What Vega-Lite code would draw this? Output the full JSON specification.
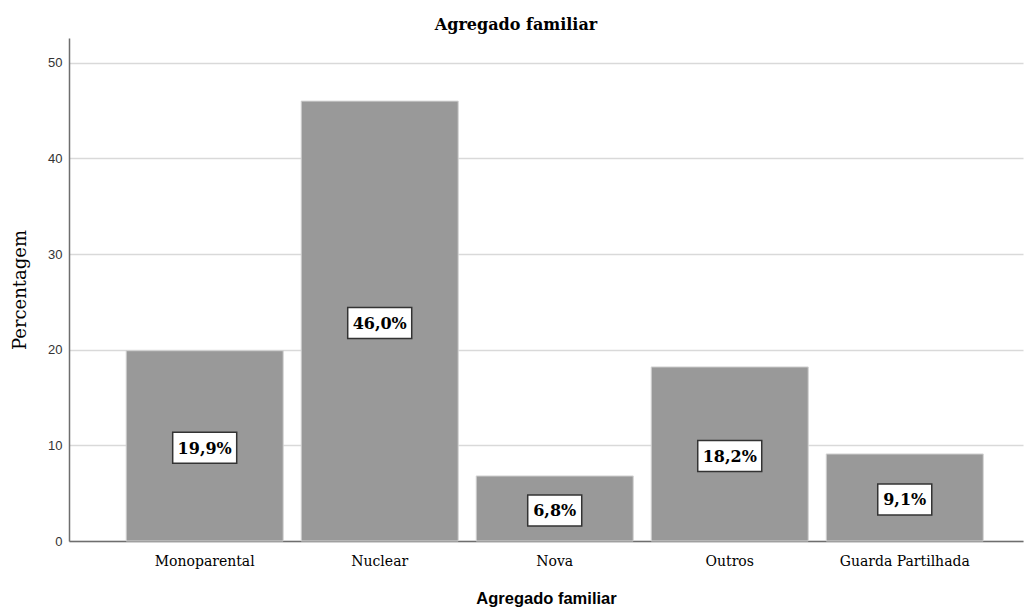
{
  "$schema": "https://vega.github.io/schema/vega-lite/v6.json",
  "width": 954,
  "height": 503,
  "autosize": "none",
  "padding": {"left": 69, "top": 38, "right": 2, "bottom": 67},
  "background": "white",
  "config": {"view": {"stroke": null}},
  "title": {
    "text": "Agregado familiar",
    "font": "DejaVu Serif",
    "fontWeight": "bold",
    "fontSize": 16,
    "color": "#000000",
    "anchor": "middle",
    "baseline": "alphabetic",
    "offset": -8,
    "dx": -30
  },
  "data": {
    "values": [
      {"categoria": "Monoparental", "pct": 19.9, "label": "19,9%"},
      {"categoria": "Nuclear", "pct": 46.0, "label": "46,0%"},
      {"categoria": "Nova", "pct": 6.8, "label": "6,8%"},
      {"categoria": "Outros", "pct": 18.2, "label": "18,2%"},
      {"categoria": "Guarda Partilhada", "pct": 9.1, "label": "9,1%"}
    ]
  },
  "encoding": {
    "x": {
      "field": "categoria",
      "type": "nominal",
      "sort": null,
      "scale": {"paddingInner": 0.103, "paddingOuter": 0.277, "align": 0.59},
      "axis": {
        "title": "Agregado familiar",
        "titleFont": "Liberation Sans",
        "titleFontWeight": "bold",
        "titleFontSize": 16.5,
        "titleColor": "#000000",
        "titleBaseline": "alphabetic",
        "titleY": 62,
        "labelAngle": 0,
        "labelFont": "DejaVu Serif",
        "labelFontSize": 14,
        "labelColor": "#000000",
        "labelBaseline": "alphabetic",
        "labelPadding": 24,
        "ticks": false,
        "tickSize": 0,
        "domainColor": "#6e6e6e",
        "domainWidth": 1.5,
        "grid": false
      }
    }
  },
  "layer": [
    {
      "mark": {"type": "bar", "color": "#999999", "stroke": "#d2d2d2", "strokeWidth": 1},
      "encoding": {
        "y": {
          "field": "pct",
          "type": "quantitative",
          "scale": {"domain": [0, 52.6], "nice": false, "zero": true},
          "axis": {
            "title": "Percentagem",
            "titleFont": "DejaVu Serif",
            "titleFontWeight": "normal",
            "titleFontSize": 18,
            "titleColor": "#000000",
            "titleBaseline": "alphabetic",
            "titleX": -44,
            "values": [0, 10, 20, 30, 40, 50],
            "labelFont": "Liberation Sans",
            "labelFontSize": 13,
            "labelColor": "#333333",
            "labelPadding": 7,
            "ticks": false,
            "tickSize": 0,
            "domainColor": "#6e6e6e",
            "domainWidth": 1.5,
            "grid": true,
            "gridColor": "#d9d9d9",
            "gridWidth": 1.5,
            "zindex": 0
          }
        }
      }
    },
    {
      "mark": {"type": "point", "filled": true, "fill": "white", "stroke": "#333333", "strokeWidth": 1.5, "opacity": 1, "yOffset": 2, "size": 4096},
      "encoding": {
        "y": {"field": "pct", "type": "quantitative", "scale": {"domain": [0, 105.2], "nice": false, "zero": true}, "axis": null},
        "shape": {
          "condition": {"test": "datum.pct < 10", "value": "M-0.844,-0.484H0.844V0.484H-0.844Z"},
          "value": "M-1,-0.484H1V0.484H-1Z"
        }
      }
    },
    {
      "mark": {"type": "text", "font": "DejaVu Serif", "fontWeight": "bold", "fontSize": 16, "color": "#000000", "baseline": "middle", "align": "center", "dy": 3},
      "encoding": {
        "y": {"field": "pct", "type": "quantitative", "scale": {"domain": [0, 105.2], "nice": false, "zero": true}, "axis": null},
        "text": {"field": "label"}
      }
    }
  ],
  "resolve": {"scale": {"y": "independent"}}
}
